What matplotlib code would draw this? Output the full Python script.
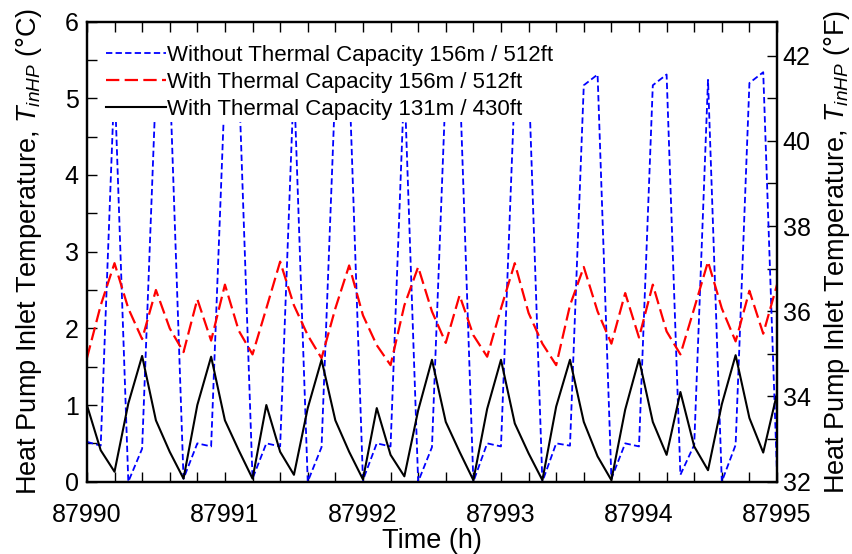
import numpy as np
import matplotlib
matplotlib.use("Agg")
import matplotlib.pyplot as plt
from matplotlib.ticker import MultipleLocator

plt.rcParams['font.family'] = ['Liberation Sans', 'DejaVu Sans']
plt.rcParams['mathtext.fontset'] = 'custom'
plt.rcParams['mathtext.rm'] = 'Liberation Sans'
plt.rcParams['mathtext.it'] = 'Liberation Sans:italic'

# simulation output, 6 min time step
t_start = 87990.0
t_step = 0.1
n_steps = 51
time_h = t_start + t_step * np.arange(n_steps)

# inlet temperature (degC)
without_cap_156 = [0.52, 0.47, 5.24, 0.00, 0.43, 5.17, 5.31, 0.04, 0.50, 0.46,
                   5.17, 5.31, 0.04, 0.50, 0.46, 5.24, 0.00, 0.45, 5.17, 5.31,
                   0.02, 0.50, 0.46, 5.24, 0.00, 0.45, 5.17, 5.31, 0.00, 0.50,
                   0.46, 5.17, 5.31, 0.00, 0.50, 0.47, 5.17, 5.31, 0.04, 0.50,
                   0.46, 5.17, 5.31, 0.09, 0.48, 5.24, 0.00, 0.48, 5.20, 5.34,
                   0.10]
with_cap_156 = [1.61, 2.30, 2.85, 2.26, 1.86, 2.50, 2.00, 1.69, 2.38, 1.84,
                2.57, 1.97, 1.66, 2.26, 2.87, 2.30, 1.91, 1.61, 2.26, 2.82,
                2.17, 1.78, 1.52, 2.30, 2.80, 2.22, 1.81, 2.43, 1.91, 1.63,
                2.26, 2.85, 2.20, 1.80, 1.52, 2.30, 2.80, 2.22, 1.80, 2.46,
                1.88, 2.57, 1.96, 1.66, 2.26, 2.87, 2.26, 1.83, 2.49, 1.93,
                2.57]
with_cap_131 = [1.00, 0.41, 0.13, 1.02, 1.64, 0.80, 0.39, 0.04, 1.00, 1.63,
                0.80, 0.41, 0.04, 1.00, 0.39, 0.09, 0.96, 1.59, 0.80, 0.39,
                0.03, 0.96, 0.35, 0.07, 0.93, 1.59, 0.78, 0.39, 0.02, 0.95,
                1.59, 0.76, 0.37, 0.02, 0.98, 1.59, 0.78, 0.33, 0.02, 0.94,
                1.60, 0.78, 0.35, 1.17, 0.46, 0.15, 1.01, 1.65, 0.83, 0.38,
                1.15]

series_labels = ['Without Thermal Capacity 156m / 512ft',
                 'With Thermal Capacity 156m / 512ft',
                 'With Thermal Capacity 131m / 430ft']

fig = plt.figure(figsize=(8.52, 5.54), dpi=100)
ax = fig.add_axes([0.102, 0.1305, 0.810, 0.8305])

ax.plot(time_h, without_cap_156, color='#0000ff', lw=1.3,
        linestyle=(0, (3.5, 1.8)), label=series_labels[0])
ax.plot(time_h, with_cap_156, color='#ff0000', lw=1.6,
        linestyle=(0, (6, 2.4)), label=series_labels[1])
ax.plot(time_h, with_cap_131, color='black', lw=1.5, label=series_labels[2])

ax.set_xlim(87990, 87995)
ax.set_ylim(0, 6)
ax.xaxis.set_major_locator(MultipleLocator(1))
ax.xaxis.set_minor_locator(MultipleLocator(0.2))
ax.yaxis.set_major_locator(MultipleLocator(1))
ax.yaxis.set_minor_locator(MultipleLocator(0.5))
ax.ticklabel_format(useOffset=False)
ax.tick_params(which='both', direction='in', length=7, width=1,
               top=True, labelsize=18, pad=6)
ax.tick_params(axis='x', pad=15)
for sp in ax.spines.values():
    sp.set_linewidth(1.6)

ax.set_xlabel('Time (h)', fontsize=19.5, labelpad=1)
ax.set_ylabel(r'Heat Pump Inlet Temperature, $T_{inHP}$ (°C)', fontsize=19.5,
              labelpad=15)

# Fahrenheit scale on the right
ax2 = ax.twinx()
ax2.set_ylim(32, 32 + 6 * 1.8)
ax2.yaxis.set_major_locator(MultipleLocator(2))
ax2.yaxis.set_minor_locator(MultipleLocator(1))
ax2.tick_params(which='both', direction='in', length=7, width=1,
                labelsize=18, pad=4)
ax2.set_ylabel(r'Heat Pump Inlet Temperature, $T_{inHP}$ (°F)', fontsize=19.5,
               labelpad=8)
for sp in ax2.spines.values():
    sp.set_linewidth(1.6)

leg = ax.legend(loc='upper left', bbox_to_anchor=(0.025, 0.955), fontsize=16,
                handlelength=2.7, handletextpad=0.05, labelspacing=0.27,
                borderpad=0.1, borderaxespad=0, fancybox=False,
                framealpha=1, edgecolor='none', facecolor='white')
ax2.set_zorder(ax.get_zorder() - 1)
ax.patch.set_visible(False)

fig.savefig('out.png', dpi=100)
